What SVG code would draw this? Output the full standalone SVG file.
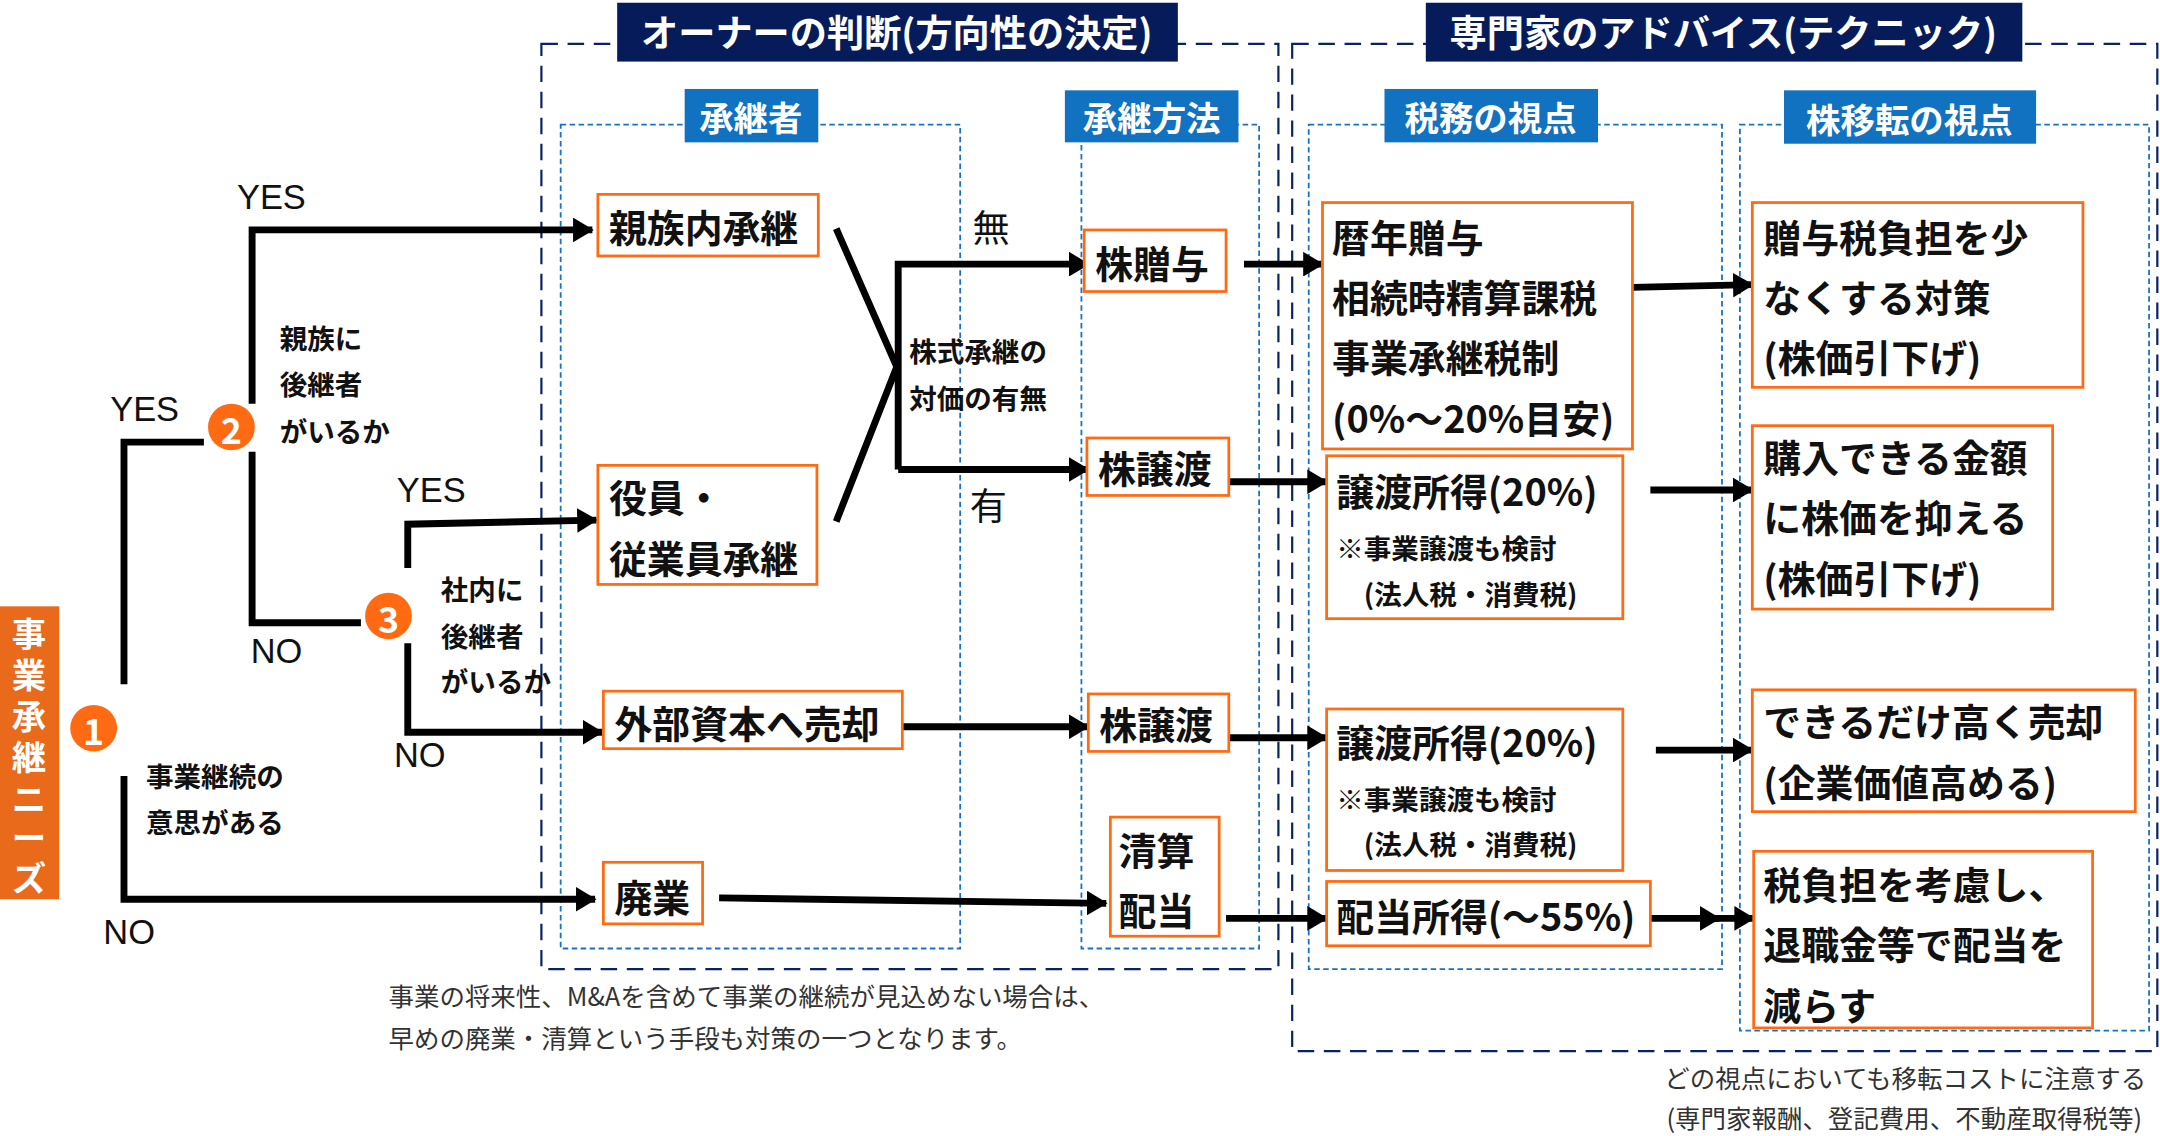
<svg xmlns="http://www.w3.org/2000/svg" width="2160" height="1136" viewBox="0 0 2160 1136">
<style>
text{font-family:"Noto Sans CJK JP","Noto Sans",sans-serif;dominant-baseline:central}
.b{font-weight:bold}
.n{fill:#fff;stroke:#FF6A13;stroke-width:2}
.t26{font-size:27.5px;font-weight:bold;fill:#111}
.t19{font-size:20px;font-weight:bold;fill:#111}
.yn{font-size:25px;fill:#111;font-family:"Liberation Sans",sans-serif}
.ln{fill:none;stroke:#000;stroke-width:5}
.ar{marker-end:url(#ah)}
.od{fill:none;stroke:#0A2360;stroke-width:1.6;stroke-dasharray:12 7}
.id{fill:none;stroke:#1672C8;stroke-width:1.3;stroke-dasharray:4 2.5}
.hd{fill:#061C5A}
.hb{fill:#1072C0}
.wh{fill:#fff;font-weight:bold}
.cir{fill:#FF6A13}
.note{font-size:18.5px;fill:#333}
</style>
<defs>
<marker id="ah" markerUnits="userSpaceOnUse" markerWidth="16" markerHeight="18" refX="14" refY="9" orient="auto"><path d="M0,0 L15,9 L0,18 Z" fill="#000"/></marker>
</defs>
<rect width="2160" height="1136" fill="#fff"/>
<g transform="scale(1.3776 1.3687)">
<g id="frames">
<rect class="od" x="393" y="32" width="535" height="676"/>
<rect class="od" x="938" y="32" width="628" height="736"/>
<rect class="id" x="407" y="91" width="290" height="602"/>
<rect class="id" x="785" y="91" width="129" height="602"/>
<rect class="id" x="950" y="91" width="300" height="617"/>
<rect class="id" x="1263" y="91" width="297" height="662"/>
<rect class="hd" x="448" y="2" width="407" height="43"/>
<text class="wh" x="651" y="23" font-size="27" text-anchor="middle">オーナーの判断(方向性の決定)</text>
<rect class="hd" x="1035" y="2" width="433" height="43"/>
<text class="wh" x="1251" y="23" font-size="27" text-anchor="middle">専門家のアドバイス(テクニック)</text>
<rect class="hb" x="497" y="65" width="97" height="39"/>
<text class="wh" x="545" y="85" font-size="25" text-anchor="middle">承継者</text>
<rect class="hb" x="773" y="66" width="126" height="38"/>
<text class="wh" x="836" y="85" font-size="25" text-anchor="middle">承継方法</text>
<rect class="hb" x="1005" y="65" width="155" height="39"/>
<text class="wh" x="1082" y="85" font-size="25" text-anchor="middle">税務の視点</text>
<rect class="hb" x="1295" y="66" width="183" height="39"/>
<text class="wh" x="1386" y="86" font-size="25" text-anchor="middle">株移転の視点</text>
</g>
<g id="connectors">
<path class="ln" d="M90,500 V323 H148"/>
<path class="ln ar" d="M90,567 V657 H432"/>
<path class="ln ar" d="M183,295 V168 H430"/>
<path class="ln" d="M183,330 V455 H262"/>
<path class="ln ar" d="M296,415 V383 L433,380"/>
<path class="ln ar" d="M296,470 V535 H437"/>
<path class="ln" d="M607,167 L651,268 L607,381"/>
<path class="ln ar" d="M652,343 V193 H790"/>
<path class="ln ar" d="M652,343 H790"/>
<path class="ln ar" d="M655,531 H790"/>
<path class="ln ar" d="M522,656 L803,660"/>
<path class="ln ar" d="M903,193 H960"/>
<path class="ln ar" d="M892,352 H963"/>
<path class="ln ar" d="M892,539 H963"/>
<path class="ln ar" d="M890,671 H963"/>
<path class="ln ar" d="M1185,210 L1272,208"/>
<path class="ln ar" d="M1198,358 H1272"/>
<path class="ln ar" d="M1202,548 H1272"/>
<path class="ln ar" d="M1198,671 H1248"/>
<path class="ln ar" d="M1240,671 H1273"/>
</g>
<g id="labels">
<text class="yn" x="80" y="299">YES</text>
<text class="yn" x="75" y="681">NO</text>
<text class="yn" x="172" y="144">YES</text>
<text class="yn" x="182" y="476">NO</text>
<text class="yn" x="288" y="358">YES</text>
<text class="yn" x="286" y="552">NO</text>
<text class="t19" x="106" y="566">事業継続の</text>
<text class="t19" x="106" y="600">意思がある</text>
<text class="t19" x="203" y="246">親族に</text>
<text class="t19" x="203" y="280">後継者</text>
<text class="t19" x="203" y="314">がいるか</text>
<text class="t19" x="320" y="430">社内に</text>
<text class="t19" x="320" y="464">後継者</text>
<text class="t19" x="320" y="497">がいるか</text>
<text class="t19" x="660" y="256">株式承継の</text>
<text class="t19" x="660" y="290">対価の有無</text>
<text x="706" y="165" font-size="27" fill="#111">無</text>
<text x="704" y="368" font-size="27" fill="#111">有</text>
<text class="note" x="282" y="727">事業の将来性、M&amp;Aを含めて事業の継続が見込めない場合は、</text>
<text class="note" x="282" y="758">早めの廃業・清算という手段も対策の一つとなります。</text>
<text class="note" x="1558" y="787" text-anchor="end">どの視点においても移転コストに注意する</text>
<text class="note" x="1555" y="816" text-anchor="end">(専門家報酬、登記費用、不動産取得税等)</text>
</g>
<g id="needs">
<rect x="0" y="443" width="43" height="214" fill="#E86A1A"/>
<text class="wh" text-anchor="middle" style="font-size:25px"><tspan x="21" y="462">事</tspan><tspan x="21" y="492">業</tspan><tspan x="21" y="522">承</tspan><tspan x="21" y="552">継</tspan><tspan x="21" y="582">ニ</tspan><tspan x="21" y="611">ー</tspan><tspan x="21" y="640">ズ</tspan></text>
</g>
<g id="c1"><circle class="cir" cx="68" cy="532" r="17"/><text class="wh" x="68" y="533" font-size="26" text-anchor="middle" font-family="Liberation Sans">1</text></g>
<g id="c2"><circle class="cir" cx="168" cy="312" r="17"/><text class="wh" x="168" y="313" font-size="26" text-anchor="middle" font-family="Liberation Sans">2</text></g>
<g id="c3"><circle class="cir" cx="282" cy="450" r="17"/><text class="wh" x="282" y="451" font-size="26" text-anchor="middle" font-family="Liberation Sans">3</text></g>
<g id="n1"><rect class="n" x="434" y="142" width="160" height="45"/><text class="t26" x="442" y="165">親族内承継</text></g>
<g id="n2"><rect class="n" x="434" y="340" width="159" height="87"/><text class="t26" x="442" y="362">役員・</text><text class="t26" x="442" y="407">従業員承継</text></g>
<g id="n3"><rect class="n" x="438" y="505" width="217" height="42"/><text class="t26" x="446" y="527">外部資本へ売却</text></g>
<g id="n4"><rect class="n" x="438" y="630" width="72" height="45"/><text class="t26" x="446" y="654">廃業</text></g>
<g id="m1"><rect class="n" x="787" y="168" width="103" height="45"/><text class="t26" x="795" y="191">株贈与</text></g>
<g id="m2"><rect class="n" x="789" y="320" width="103" height="42"/><text class="t26" x="797" y="341">株譲渡</text></g>
<g id="m3"><rect class="n" x="790" y="507" width="102" height="42"/><text class="t26" x="798" y="528">株譲渡</text></g>
<g id="m4"><rect class="n" x="806" y="597" width="79" height="87"/><text class="t26" x="812" y="620">清算</text><text class="t26" x="812" y="664">配当</text></g>
<g id="x1"><rect class="n" x="960" y="148" width="225" height="180"/><text class="t26" x="967" y="172">暦年贈与</text><text class="t26" x="967" y="216">相続時精算課税</text><text class="t26" x="967" y="260">事業承継税制</text><text class="t26" x="967" y="304">(0%〜20%目安)</text></g>
<g id="x2"><rect class="n" x="963" y="333" width="215" height="119"/><text class="t26" x="970" y="358">譲渡所得(20%)</text><text class="t19" x="970" y="400">※事業譲渡も検討</text><text class="t19" x="990" y="433">(法人税・消費税)</text></g>
<g id="x3"><rect class="n" x="963" y="518" width="215" height="118"/><text class="t26" x="970" y="541">譲渡所得(20%)</text><text class="t19" x="970" y="583">※事業譲渡も検討</text><text class="t19" x="990" y="616">(法人税・消費税)</text></g>
<g id="x4"><rect class="n" x="963" y="644" width="235" height="47"/><text class="t26" x="970" y="668">配当所得(〜55%)</text></g>
<g id="y1"><rect class="n" x="1272" y="148" width="240" height="135"/><text class="t26" x="1280" y="172">贈与税負担を少</text><text class="t26" x="1280" y="216">なくする対策</text><text class="t26" x="1280" y="260">(株価引下げ)</text></g>
<g id="y2"><rect class="n" x="1272" y="311" width="218" height="134"/><text class="t26" x="1280" y="333">購入できる金額</text><text class="t26" x="1280" y="377">に株価を抑える</text><text class="t26" x="1280" y="421">(株価引下げ)</text></g>
<g id="y3"><rect class="n" x="1272" y="504" width="278" height="89"/><text class="t26" x="1280" y="526">できるだけ高く売却</text><text class="t26" x="1280" y="570">(企業価値高める)</text></g>
<g id="y4"><rect class="n" x="1273" y="622" width="246" height="129"/><text class="t26" x="1280" y="645">税負担を考慮し、</text><text class="t26" x="1280" y="689">退職金等で配当を</text><text class="t26" x="1280" y="733">減らす</text></g>
</g>
</svg>
